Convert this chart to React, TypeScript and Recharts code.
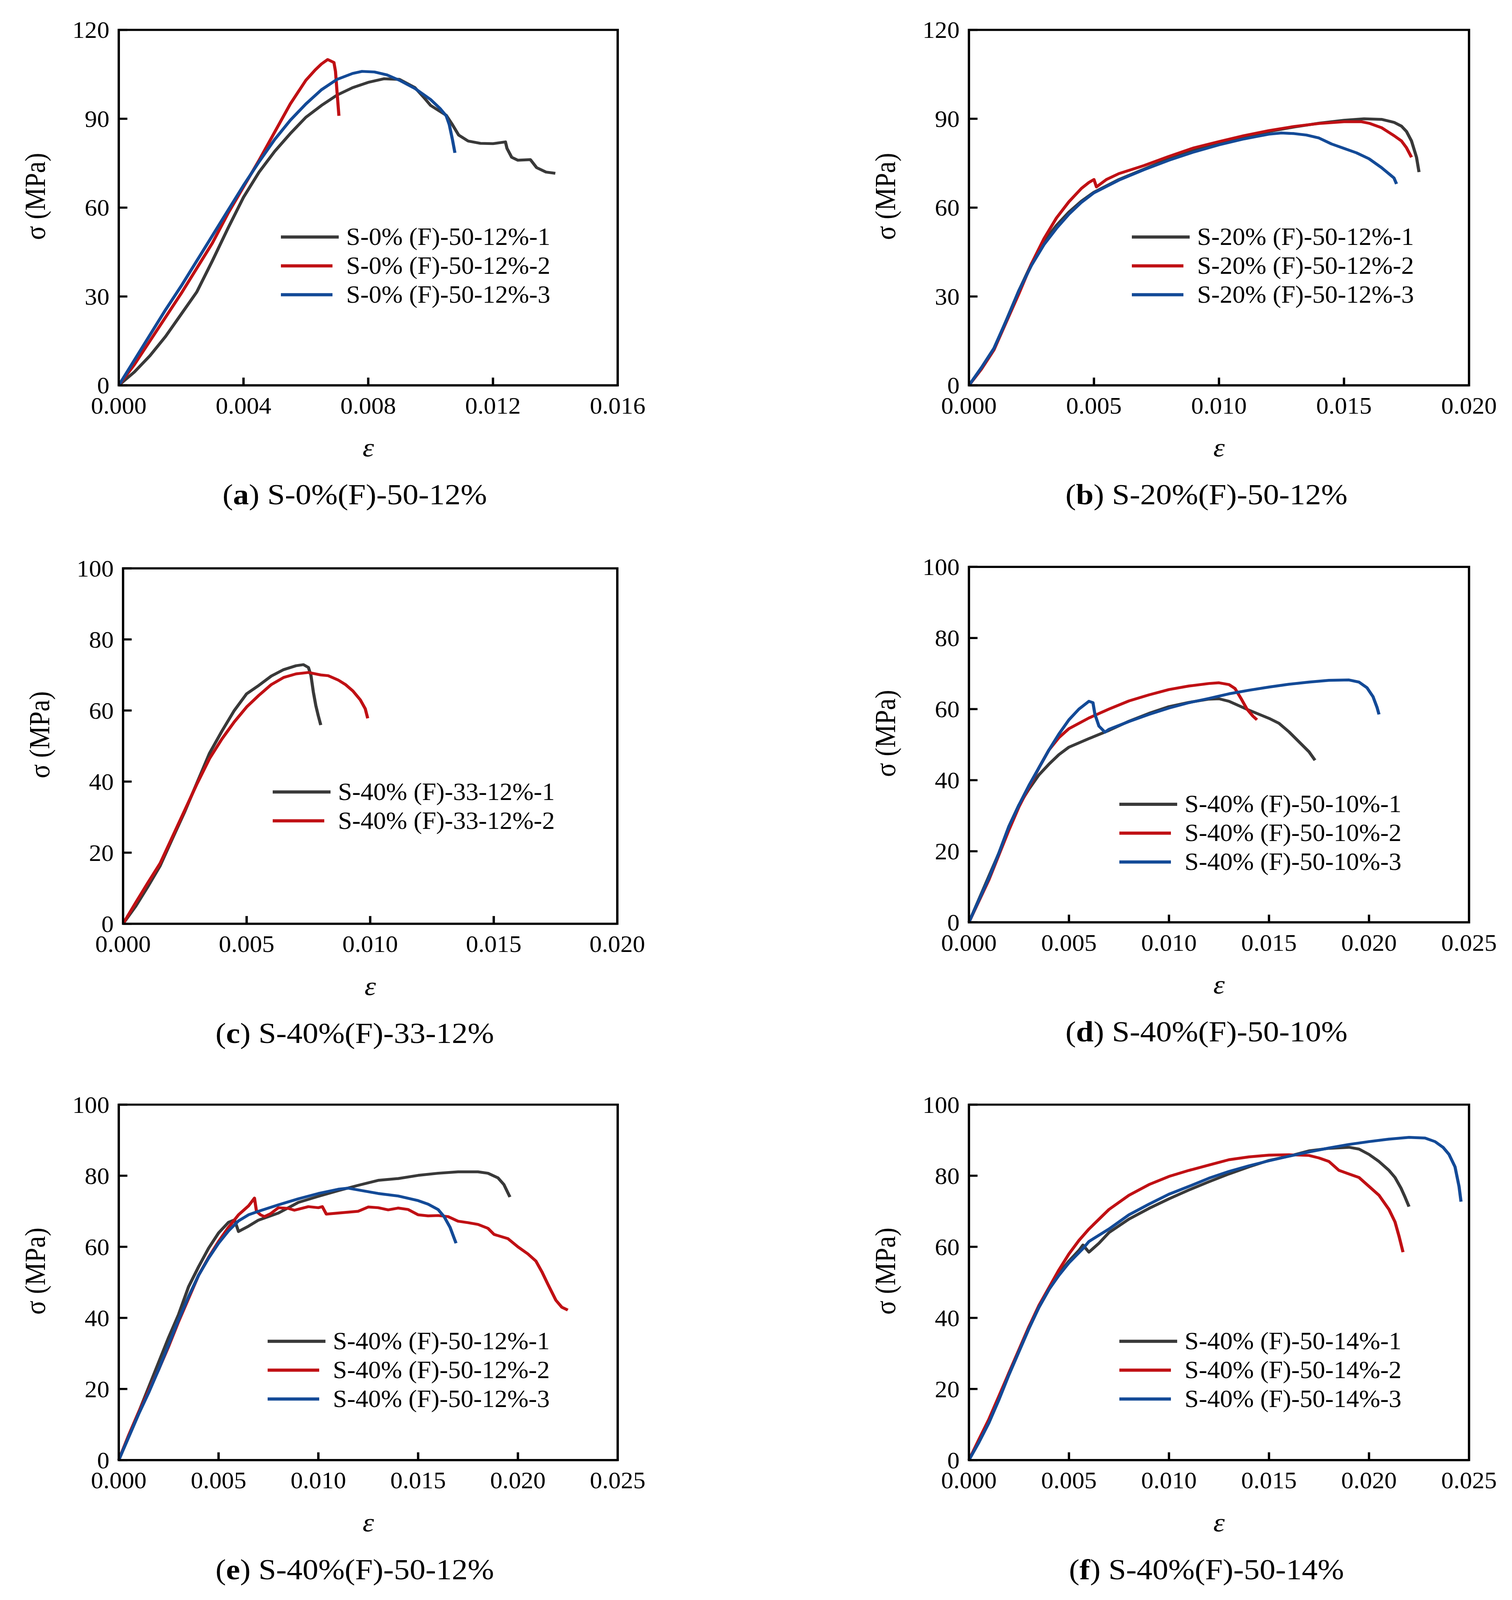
import React from "react";
import { Legend, Line, LineChart, ReferenceArea, XAxis, YAxis } from "recharts";

const SERIF = "'Liberation Serif', 'Times New Roman', serif";
const BLACK = "#393939";
const RED = "#c01014";
const BLUE = "#134a97";

// tick labels
const X_TICKS_016 = [0, 0.004, 0.008, 0.012, 0.016];
const X_TICKS_020 = [0, 0.005, 0.01, 0.015, 0.02];
const X_TICKS_025 = [0, 0.005, 0.01, 0.015, 0.02, 0.025];
const Y_TICKS_120 = [0, 30, 60, 90, 120];
const Y_TICKS_100 = [0, 20, 40, 60, 80, 100];

// [strain, stress MPa]
const a1 = [[0, 0], [0.0005, 4.5], [0.001, 10], [0.0015, 16.5], [0.002, 24], [0.0025, 31.5], [0.003, 42], [0.0035, 53], [0.004, 63.5], [0.0045, 72], [0.005, 79], [0.0055, 85], [0.006, 90.5], [0.0065, 94.5], [0.007, 98], [0.0075, 100.5], [0.008, 102.3], [0.0085, 103.5], [0.009, 103.3], [0.0095, 100.5], [0.0098, 97], [0.01, 94.5], [0.0103, 92.5], [0.0105, 91.2], [0.0107, 88], [0.0109, 84.5], [0.0112, 82.5], [0.0116, 81.7], [0.012, 81.6], [0.0124, 82.2], [0.01245, 80], [0.0126, 77], [0.0128, 76], [0.0132, 76.2], [0.0134, 73.5], [0.0137, 72], [0.014, 71.6]];
const a2 = [[0, 0], [0.0005, 7], [0.001, 15], [0.0015, 23], [0.002, 31], [0.0025, 39.5], [0.003, 48], [0.0035, 58], [0.004, 67], [0.0045, 76], [0.005, 85.5], [0.0055, 95], [0.006, 103], [0.0063, 106.5], [0.0065, 108.5], [0.0067, 110], [0.0069, 109], [0.00695, 106], [0.007, 99], [0.00706, 91]];
const a3 = [[0, 0], [0.0005, 8.5], [0.001, 17], [0.0015, 25.5], [0.002, 33.5], [0.0025, 42], [0.003, 50.5], [0.0035, 59], [0.004, 67.5], [0.0045, 75.5], [0.005, 83], [0.0055, 89.5], [0.006, 95], [0.0065, 99.8], [0.007, 103.3], [0.0075, 105.3], [0.0078, 106], [0.0082, 105.8], [0.0086, 104.8], [0.009, 103], [0.0095, 100.2], [0.01, 96.5], [0.0103, 93.5], [0.0105, 91], [0.0106, 88], [0.0107, 83], [0.01078, 78.5]];

const b1 = [[0, 0], [0.0005, 5.5], [0.001, 12], [0.0015, 22], [0.002, 32], [0.0025, 41], [0.003, 48.5], [0.0035, 54], [0.004, 58.5], [0.0045, 62.2], [0.005, 65.2], [0.006, 69.5], [0.007, 73], [0.008, 76.5], [0.009, 79.4], [0.01, 81.7], [0.011, 84], [0.012, 85.7], [0.013, 87.2], [0.014, 88.5], [0.015, 89.5], [0.0158, 90], [0.0165, 89.8], [0.017, 88.8], [0.0173, 87.5], [0.0175, 85.7], [0.0177, 82.5], [0.0179, 77], [0.018, 72]];
const b2 = [[0, 0], [0.0005, 5.5], [0.001, 12], [0.0015, 21.5], [0.002, 31], [0.0025, 41], [0.003, 49.5], [0.0035, 56.5], [0.004, 62], [0.0045, 66.5], [0.0048, 68.5], [0.005, 69.5], [0.0051, 67], [0.0055, 69.5], [0.006, 71.5], [0.007, 74.2], [0.008, 77.3], [0.009, 80.2], [0.01, 82.3], [0.011, 84.3], [0.012, 86], [0.013, 87.4], [0.014, 88.4], [0.015, 89], [0.0157, 89], [0.016, 88.5], [0.0165, 87], [0.017, 84.3], [0.0173, 82.5], [0.0175, 80.2], [0.0177, 77]];
const b3 = [[0, 0], [0.0005, 6], [0.001, 12.5], [0.0015, 22], [0.002, 32], [0.0025, 40.5], [0.003, 47.5], [0.0035, 53], [0.004, 57.8], [0.0045, 61.8], [0.005, 65], [0.006, 69.3], [0.007, 72.8], [0.008, 76], [0.009, 78.8], [0.01, 81.2], [0.011, 83.2], [0.0115, 84], [0.012, 84.8], [0.0125, 85.2], [0.013, 85], [0.0135, 84.5], [0.014, 83.5], [0.0145, 81.5], [0.015, 80], [0.0155, 78.5], [0.016, 76.5], [0.0165, 73.5], [0.017, 70], [0.0171, 68]];

const c1 = [[0, 0], [0.0005, 4.8], [0.001, 10.4], [0.0015, 16.3], [0.002, 24], [0.0025, 31.6], [0.003, 39.8], [0.0035, 48], [0.004, 54.2], [0.0045, 60], [0.005, 64.7], [0.0055, 67.1], [0.006, 69.7], [0.0065, 71.5], [0.007, 72.6], [0.0073, 72.9], [0.0075, 72.1], [0.0076, 70], [0.0077, 65.2], [0.0078, 61.4], [0.0079, 58.5], [0.008, 55.9]];
const c2 = [[0, 0], [0.0005, 5.8], [0.001, 11.5], [0.0015, 17], [0.002, 24.5], [0.0025, 32], [0.003, 39.5], [0.0035, 46.5], [0.004, 52], [0.0045, 56.8], [0.005, 61], [0.0055, 64.3], [0.006, 67.3], [0.0065, 69.3], [0.007, 70.3], [0.0075, 70.7], [0.008, 70], [0.0083, 69.8], [0.0087, 68.6], [0.009, 67.3], [0.0093, 65.5], [0.0096, 63], [0.0098, 60.5], [0.0099, 57.8]];

const d1 = [[0, 0], [0.0005, 6.5], [0.001, 13], [0.0015, 19.5], [0.002, 27], [0.0025, 33], [0.003, 37.5], [0.0035, 41.5], [0.004, 44.5], [0.0045, 47.2], [0.005, 49.3], [0.006, 51.7], [0.007, 54], [0.008, 56.6], [0.009, 58.8], [0.01, 60.7], [0.011, 61.9], [0.012, 62.8], [0.0125, 62.9], [0.013, 62.2], [0.014, 59.7], [0.015, 57.4], [0.0155, 56], [0.016, 53.6], [0.0165, 50.8], [0.017, 48], [0.0173, 45.6]];
const d2 = [[0, 0], [0.0005, 6], [0.001, 12], [0.0015, 19], [0.002, 26], [0.0025, 32.5], [0.003, 38], [0.0035, 43.5], [0.004, 48.5], [0.0045, 52], [0.005, 54.5], [0.006, 57.5], [0.007, 60], [0.008, 62.3], [0.009, 64], [0.01, 65.5], [0.011, 66.5], [0.012, 67.2], [0.0125, 67.4], [0.013, 66.9], [0.0133, 65.8], [0.0136, 63], [0.0139, 60], [0.0142, 58], [0.0144, 57]];
const d3 = [[0, 0], [0.0005, 6.3], [0.001, 12.5], [0.0015, 19.5], [0.002, 27], [0.0025, 33], [0.003, 38.5], [0.0035, 43.5], [0.004, 48.5], [0.0045, 53], [0.005, 57], [0.0055, 60], [0.006, 62.2], [0.0062, 61.8], [0.0063, 58.5], [0.0065, 55.2], [0.0068, 53.5], [0.007, 54.3], [0.008, 56.5], [0.009, 58.5], [0.01, 60.3], [0.011, 61.8], [0.012, 63], [0.013, 64.3], [0.014, 65.3], [0.015, 66.2], [0.016, 67], [0.017, 67.6], [0.018, 68.1], [0.019, 68.2], [0.0195, 67.6], [0.0199, 66], [0.0202, 63.5], [0.0204, 60.5], [0.0205, 58.5]];

const e1 = [[0, 0], [0.0005, 7], [0.001, 13.5], [0.0015, 20.5], [0.002, 27.5], [0.0025, 34.5], [0.003, 41], [0.0035, 48.8], [0.004, 54.4], [0.0045, 59.6], [0.005, 63.9], [0.0055, 66.9], [0.0058, 67.6], [0.006, 64.3], [0.0065, 65.8], [0.007, 67.5], [0.008, 69.5], [0.009, 72.5], [0.01, 74.2], [0.011, 75.8], [0.012, 77.3], [0.013, 78.7], [0.014, 79.2], [0.015, 80.1], [0.016, 80.7], [0.017, 81.1], [0.018, 81.1], [0.0185, 80.7], [0.019, 79.4], [0.0193, 77.5], [0.0196, 74]];
const e2 = [[0, 0], [0.0005, 7], [0.001, 13.5], [0.0015, 19.5], [0.002, 25.5], [0.0025, 32], [0.003, 39], [0.0035, 45.5], [0.004, 52], [0.0045, 57], [0.005, 61.5], [0.0055, 65.5], [0.006, 69], [0.0065, 71.5], [0.0068, 73.7], [0.0069, 70], [0.0071, 69], [0.0073, 68.5], [0.0076, 69.3], [0.008, 71], [0.0085, 70.8], [0.0088, 70.3], [0.0095, 71.3], [0.01, 71], [0.0102, 71.3], [0.0104, 69.2], [0.011, 69.5], [0.012, 70], [0.0125, 71.2], [0.013, 71], [0.0135, 70.4], [0.014, 70.9], [0.0145, 70.5], [0.015, 69], [0.0155, 68.7], [0.016, 68.8], [0.0165, 68.5], [0.017, 67.2], [0.0175, 66.8], [0.018, 66.3], [0.0185, 65.2], [0.0188, 63.5], [0.0195, 62.3], [0.02, 60], [0.0205, 58], [0.0209, 56], [0.0212, 53], [0.0215, 49.5], [0.0219, 45], [0.0222, 43], [0.0225, 42.2]];
const e3 = [[0, 0], [0.0005, 6.5], [0.001, 13], [0.0015, 19], [0.002, 25.5], [0.0025, 32.5], [0.003, 39.5], [0.0035, 46], [0.004, 52], [0.0045, 56.8], [0.005, 61], [0.0055, 64.5], [0.006, 67.3], [0.0065, 69], [0.007, 70], [0.008, 71.8], [0.009, 73.5], [0.01, 75], [0.011, 76.2], [0.0115, 76.5], [0.012, 76], [0.013, 75], [0.014, 74.3], [0.015, 73], [0.0155, 72], [0.016, 70.5], [0.0163, 68.5], [0.0166, 65.5], [0.0168, 62.5], [0.0169, 61]];

const f1 = [[0, 0], [0.0005, 5.5], [0.001, 11], [0.0015, 17.5], [0.002, 24.5], [0.0025, 31], [0.003, 37.5], [0.0035, 43], [0.004, 48], [0.0045, 52.5], [0.005, 56], [0.0055, 59], [0.0057, 60.5], [0.006, 58.5], [0.0065, 61], [0.007, 64], [0.008, 67.8], [0.009, 70.8], [0.01, 73.5], [0.011, 76], [0.012, 78.3], [0.013, 80.5], [0.014, 82.5], [0.015, 84.3], [0.016, 85.5], [0.017, 87], [0.018, 87.7], [0.019, 88], [0.0195, 87.5], [0.02, 86], [0.0205, 84], [0.021, 81.5], [0.0213, 79.5], [0.0216, 76.5], [0.0218, 74], [0.022, 71.3]];
const f2 = [[0, 0], [0.0005, 5.8], [0.001, 11.5], [0.0015, 18], [0.002, 24.5], [0.0025, 31], [0.003, 37.5], [0.0035, 43.5], [0.004, 48.5], [0.0045, 53.5], [0.005, 58], [0.0055, 61.8], [0.006, 65], [0.007, 70.5], [0.008, 74.5], [0.009, 77.5], [0.01, 79.8], [0.011, 81.5], [0.012, 83], [0.013, 84.5], [0.014, 85.3], [0.015, 85.8], [0.016, 85.9], [0.017, 85.7], [0.0175, 85], [0.018, 84], [0.0185, 81.5], [0.019, 80.5], [0.0195, 79.5], [0.02, 77], [0.0205, 74.5], [0.021, 70.5], [0.0213, 67], [0.0215, 63], [0.0217, 58.5]];
const f3 = [[0, 0], [0.0005, 5], [0.001, 10.5], [0.0015, 17], [0.002, 24], [0.0025, 30.5], [0.003, 37], [0.0035, 43], [0.004, 48], [0.0045, 52], [0.005, 55.5], [0.0057, 59.5], [0.006, 61.5], [0.007, 65], [0.008, 69], [0.009, 72], [0.01, 74.8], [0.011, 77], [0.012, 79.3], [0.013, 81.2], [0.014, 82.8], [0.015, 84.2], [0.016, 85.5], [0.017, 86.7], [0.018, 87.8], [0.019, 88.8], [0.02, 89.6], [0.021, 90.3], [0.022, 90.8], [0.0228, 90.6], [0.0233, 89.6], [0.0237, 88], [0.024, 86], [0.0243, 82.5], [0.0245, 77], [0.0246, 72.7]];

const COLORS = [BLACK, RED, BLUE];

// plot box corner in page px, legend offset inside the plot
const PANELS = [
  { tag: "a", title: "S-0%(F)-50-12%", spec: "S-0% (F)-50-12%", curves: [a1, a2, a3], xMax: 0.016, xTicks: X_TICKS_016, yMax: 120, yTicks: Y_TICKS_120, left: 304, top: 85, w: 1277, capX: 908, legX: 415, legY: 588 },
  { tag: "b", title: "S-20%(F)-50-12%", spec: "S-20% (F)-50-12%", curves: [b1, b2, b3], xMax: 0.02, xTicks: X_TICKS_020, yMax: 120, yTicks: Y_TICKS_120, left: 2480, top: 85, w: 1280, capX: 3088, legX: 417, legY: 588 },
  { tag: "c", title: "S-40%(F)-33-12%", spec: "S-40% (F)-33-12%", curves: [c1, c2], xMax: 0.02, xTicks: X_TICKS_020, yMax: 100, yTicks: Y_TICKS_100, left: 315, top: 1615, w: 1265, capX: 908, legX: 383, legY: 635 },
  { tag: "d", title: "S-40%(F)-50-10%", spec: "S-40% (F)-50-10%", curves: [d1, d2, d3], xMax: 0.025, xTicks: X_TICKS_025, yMax: 100, yTicks: Y_TICKS_100, left: 2480, top: 1611, w: 1280, capX: 3088, legX: 385, legY: 674 },
  { tag: "e", title: "S-40%(F)-50-12%", spec: "S-40% (F)-50-12%", curves: [e1, e2, e3], xMax: 0.025, xTicks: X_TICKS_025, yMax: 100, yTicks: Y_TICKS_100, left: 304, top: 3139, w: 1277, capX: 908, legX: 381, legY: 672 },
  { tag: "f", title: "S-40%(F)-50-14%", spec: "S-40% (F)-50-14%", curves: [f1, f2, f3], xMax: 0.025, xTicks: X_TICKS_025, yMax: 100, yTicks: Y_TICKS_100, left: 2480, top: 3139, w: 1280, capX: 3088, legX: 385, legY: 672 },
];

const PAGE_W = 3870;
const PAGE_H = 4540;
// the photo comes back cut at about 4096px, so the figure is squeezed to fit that height
const SHOT_H = 4090;
const SQUEEZE = SHOT_H / PAGE_H;

const PLOT_H = 1010;
const M_LEFT = 200;
const M_TOP = 60;
const M_RIGHT = 100;
const M_BOTTOM = 150;
const ROW = 82;

const axisStroke = { stroke: "#000", strokeWidth: 6 };

const toPoints = (pts: number[][]) => pts.map(([x, y]) => ({ x, y }));

function Tick(props: any) {
  const { x, y, payload, textAnchor, isX } = props;
  const label = isX ? Number(payload.value).toFixed(3) : String(payload.value);
  return (
    <text
      transform={`translate(${x},${y}) scale(0.93,1)`}
      textAnchor={textAnchor}
      dy={isX ? "0.71em" : "0.34em"}
      fill="#000"
      fontSize={68}
      fontFamily={SERIF}
    >
      {label}
    </text>
  );
}

function LegendBox({ payload }: any) {
  return (
    <div style={{ fontFamily: SERIF, fontSize: 70, color: "#000" }}>
      {(payload || []).map((p: any, i: number) => (
        <div key={p.value} style={{ display: "flex", alignItems: "center", height: ROW, whiteSpace: "nowrap" }}>
          <div style={{ width: 167, flex: "0 0 167px" }}>
            <div style={{ width: i === 0 ? 148 : 132, height: 9, background: p.color }} />
          </div>
          <span style={{ lineHeight: 1, display: "inline-block", transform: "scaleX(0.93)", transformOrigin: "left center" }}>{p.value}</span>
        </div>
      ))}
    </div>
  );
}

function Panel({ p }: { p: (typeof PANELS)[number] }) {
  const W = p.w + M_LEFT + M_RIGHT;
  const H = PLOT_H + M_TOP + M_BOTTOM;
  const bottom = p.top + PLOT_H;
  return (
    <>
      <div style={{ position: "absolute", left: p.left - M_LEFT, top: p.top - M_TOP }}>
        <LineChart width={W} height={H} margin={{ top: M_TOP, right: M_RIGHT, left: 0, bottom: 0 }}>
          <XAxis
            type="number"
            dataKey="x"
            domain={[0, p.xMax]}
            ticks={p.xTicks}
            interval={0}
            height={M_BOTTOM}
            tick={<Tick isX />}
            tickSize={-22}
            tickMargin={54}
            axisLine={axisStroke}
            tickLine={axisStroke}
          />
          <YAxis
            type="number"
            domain={[0, p.yMax]}
            ticks={p.yTicks}
            interval={0}
            width={M_LEFT}
            tick={<Tick />}
            tickSize={-22}
            tickMargin={46}
            axisLine={axisStroke}
            tickLine={axisStroke}
          />
          <ReferenceArea x1={0} x2={p.xMax} y1={0} y2={p.yMax} fill="#fff" fillOpacity={0} stroke="#000" strokeWidth={6} />
          {p.curves.map((c, i) => (
            <Line
              key={i}
              data={toPoints(c)}
              dataKey="y"
              name={`${p.spec}-${i + 1}`}
              type="linear"
              stroke={COLORS[i]}
              strokeWidth={8}
              strokeLinejoin="round"
              dot={false}
              isAnimationActive={false}
            />
          ))}
          <Legend
            layout="vertical"
            align="center"
            verticalAlign="middle"
            content={LegendBox}
            wrapperStyle={{ left: M_LEFT + p.legX, top: M_TOP + p.legY - ROW / 2, width: 720, height: ROW * p.curves.length }}
          />
        </LineChart>
      </div>
      <div
        style={{
          position: "absolute",
          left: p.left - 214,
          top: p.top + PLOT_H / 2 - 32,
          transform: "translate(-50%, -50%) rotate(-90deg)",
          fontFamily: SERIF,
          fontSize: 74,
          whiteSpace: "nowrap",
          lineHeight: 1,
        }}
      >
        σ (MPa)
      </div>
      <div
        style={{
          position: "absolute",
          left: p.left + p.w / 2,
          top: bottom + 177,
          transform: "translate(-50%, -50%)",
          fontFamily: SERIF,
          fontSize: 74,
          fontStyle: "italic",
          lineHeight: 1,
        }}
      >
        ε
      </div>
      <div
        style={{
          position: "absolute",
          left: p.capX,
          top: bottom + 312,
          transform: "translate(-50%, -50%)",
          fontFamily: SERIF,
          fontSize: 81,
          whiteSpace: "nowrap",
          lineHeight: 1,
        }}
      >
        (<b>{p.tag}</b>) {p.title}
      </div>
    </>
  );
}

export default function App() {
  return (
    <div style={{ margin: -8, width: PAGE_W, height: SHOT_H, overflow: "hidden", background: "#fff" }}>
      <div
        style={{
          position: "relative",
          width: PAGE_W,
          height: PAGE_H,
          transform: `scaleY(${SQUEEZE})`,
          transformOrigin: "0 0",
        }}
      >
        {PANELS.map((p) => (
          <Panel key={p.tag} p={p} />
        ))}
      </div>
    </div>
  );
}
